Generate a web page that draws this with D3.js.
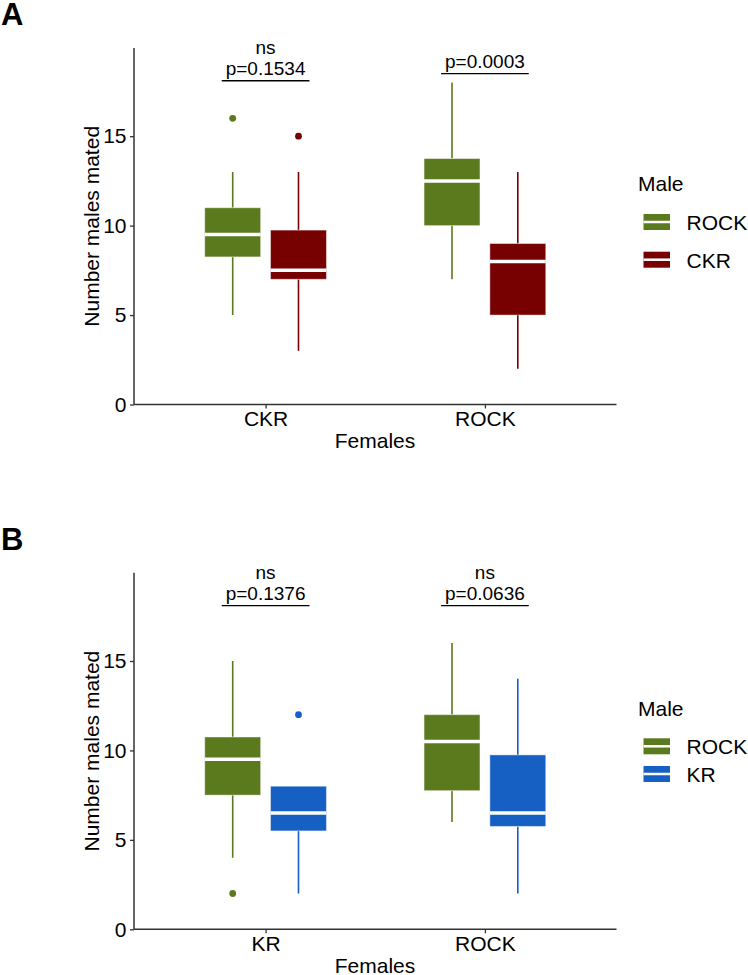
<!DOCTYPE html>
<html>
<head>
<meta charset="utf-8">
<script src="https://cdn.jsdelivr.net/npm/d3@7"></script>
<style>
  body { margin: 0; background: #fff; }
  text { font-family: "Liberation Sans", Arial, sans-serif; }
</style>
</head>
<body>
<div id="container"></div>
<script>
// panel A: females CKR / ROCK, males ROCK vs CKR
const femalesA = ["CKR", "ROCK"];
const malesA = ["ROCK", "CKR"];
const lowA = [[5, 3], [7, 2]];
const q1A = [[8.25, 7], [10, 5]];
const medA = [[9.5, 7.5], [12.5, 8]];
const q3A = [[11, 9.75], [13.75, 9]];
const highA = [[13, 13], [18, 13]];
const outA = [[[16], [15]], [[], []]];
const sigA = ["ns", ""];
const pA = ["p=0.1534", "p=0.0003"];
const bracketA = [18.1, 18.5];

// panel B: females KR / ROCK, males ROCK vs KR
const femalesB = ["KR", "ROCK"];
const malesB = ["ROCK", "KR"];
const lowB = [[4, 2], [6, 2]];
const q1B = [[7.5, 5.5], [7.75, 5.75]];
const medB = [[9.5, 6.5], [10.5, 6.5]];
const q3B = [[10.75, 8], [12, 9.75]];
const highB = [[15, 8], [16, 14]];
const outB = [[[2], [12]], [[], []]];
const sigB = ["ns", "ns"];
const pB = ["p=0.1376", "p=0.0636"];
const bracketB = [18.1, 18.1];

const yTicks = [0, 5, 10, 15];

const colors = {ROCK: "#5b7a1e", CKR: "#770000", KR: "#1660c4"};

const w = 748, h = 975;
const svg = d3.select("#container").append("svg")
  .attr("width", w).attr("height", h);

function drawPanel(p) {
  const g = svg.append("g").attr("transform", "translate(0," + p.dy + ")");
  const x = d3.scaleLinear().domain([0.4, 2.6]).range([134, 616.5]);
  const y = d3.scaleLinear().domain([0, 19.93]).range([404.5, 48]);
  const dodge = 0.15, bw = 0.255;

  // panel letter
  g.append("text").attr("x", 1).attr("y", p.letterY)
    .attr("font-size", 31).attr("font-weight", "bold").text(p.label);

  // boxes
  p.females.forEach((f, i) => {
    p.males.forEach((m, j) => {
      const cx = x(i + 1 + (j === 0 ? -dodge : dodge));
      const half = (x(bw) - x(0)) / 2;
      const col = colors[m];
      const bg = g.append("g");
      bg.append("line").attr("x1", cx).attr("x2", cx)
        .attr("y1", y(p.low[i][j])).attr("y2", y(p.q1[i][j]))
        .attr("stroke", col).attr("stroke-width", 1.6);
      bg.append("line").attr("x1", cx).attr("x2", cx)
        .attr("y1", y(p.q3[i][j])).attr("y2", y(p.high[i][j]))
        .attr("stroke", col).attr("stroke-width", 1.6);
      bg.append("rect")
        .attr("x", cx - half).attr("width", 2 * half)
        .attr("y", y(p.q3[i][j])).attr("height", y(p.q1[i][j]) - y(p.q3[i][j]))
        .attr("fill", col).attr("stroke", "#fff").attr("stroke-opacity", 0.45).attr("stroke-width", 1);
      bg.append("line").attr("x1", cx - half).attr("x2", cx + half)
        .attr("y1", y(p.med[i][j])).attr("y2", y(p.med[i][j]))
        .attr("stroke", "#fff").attr("stroke-width", 3.5);
      bg.selectAll("circle").data(p.out[i][j]).enter().append("circle")
        .attr("cx", cx).attr("cy", d => y(d)).attr("r", 3.4).attr("fill", col);
    });

    // significance
    const by = y(p.bracket[i]);
    g.append("line").attr("x1", x(i + 1 - 0.2)).attr("x2", x(i + 1 + 0.2))
      .attr("y1", by).attr("y2", by).attr("stroke", "#000").attr("stroke-width", 1.3);
    g.append("text").attr("x", x(i + 1)).attr("y", by - 5.5)
      .attr("text-anchor", "middle").attr("font-size", 19).text(p.pval[i]);
    if (p.sig[i]) {
      g.append("text").attr("x", x(i + 1)).attr("y", by - 26.5)
        .attr("text-anchor", "middle").attr("font-size", 19).text(p.sig[i]);
    }
  });

  // axes
  const yAxis = d3.axisLeft(y).tickValues(yTicks).tickSize(4).tickPadding(3.5);
  const ya = g.append("g").attr("transform", "translate(134,0)").call(yAxis);
  ya.select(".domain").attr("d", "M0," + y(19.93) + "V" + y(0));
  const xAxis = d3.axisBottom(x).tickValues([1, 2]).tickSize(4).tickPadding(3)
    .tickFormat(d => p.females[d - 1]);
  const xa = g.append("g").attr("transform", "translate(0,404.5)").call(xAxis);
  xa.select(".domain").attr("d", "M134,0H616.5");
  [ya, xa].forEach(a => {
    a.selectAll(".domain").attr("stroke", "#333").attr("stroke-width", 1.5);
    a.selectAll(".tick line").attr("stroke", "#333").attr("stroke-width", 1.3);
    a.selectAll(".tick text").attr("fill", "#000").attr("font-size", 21)
      .attr("font-family", "'Liberation Sans', Arial, sans-serif");
  });

  g.append("text").attr("x", 375).attr("y", 448).attr("text-anchor", "middle")
    .attr("font-size", 21).text("Females");
  g.append("text").attr("transform", "translate(98.5,226.3) rotate(-90)")
    .attr("text-anchor", "middle").attr("font-size", 21).text("Number males mated");

  // legend
  g.append("text").attr("x", 638).attr("y", p.legTitleY).attr("font-size", 21).text("Male");
  p.males.forEach((m, j) => {
    const ky = p.legKeyY + j * p.legStep;
    g.append("rect").attr("x", 643.5).attr("y", ky).attr("width", 26.5).attr("height", 16)
      .attr("fill", colors[m]);
    g.append("line").attr("x1", 643.5).attr("x2", 670).attr("y1", ky + 8).attr("y2", ky + 8)
      .attr("stroke", "#fff").attr("stroke-width", 2.5);
    g.append("text").attr("x", 686.5).attr("y", ky + 16).attr("font-size", 21).text(m);
  });
}

drawPanel({label: "A", dy: 0, letterY: 25, females: femalesA, males: malesA,
  low: lowA, q1: q1A, med: medA, q3: q3A, high: highA, out: outA,
  sig: sigA, pval: pA, bracket: bracketA,
  legTitleY: 190.5, legKeyY: 214, legStep: 37.7});

drawPanel({label: "B", dy: 524.8, letterY: 25.2, females: femalesB, males: malesB,
  low: lowB, q1: q1B, med: medB, q3: q3B, high: highB, out: outB,
  sig: sigB, pval: pB, bracket: bracketB,
  legTitleY: 191.2, legKeyY: 213.5, legStep: 27.7});
</script>
</body>
</html>
